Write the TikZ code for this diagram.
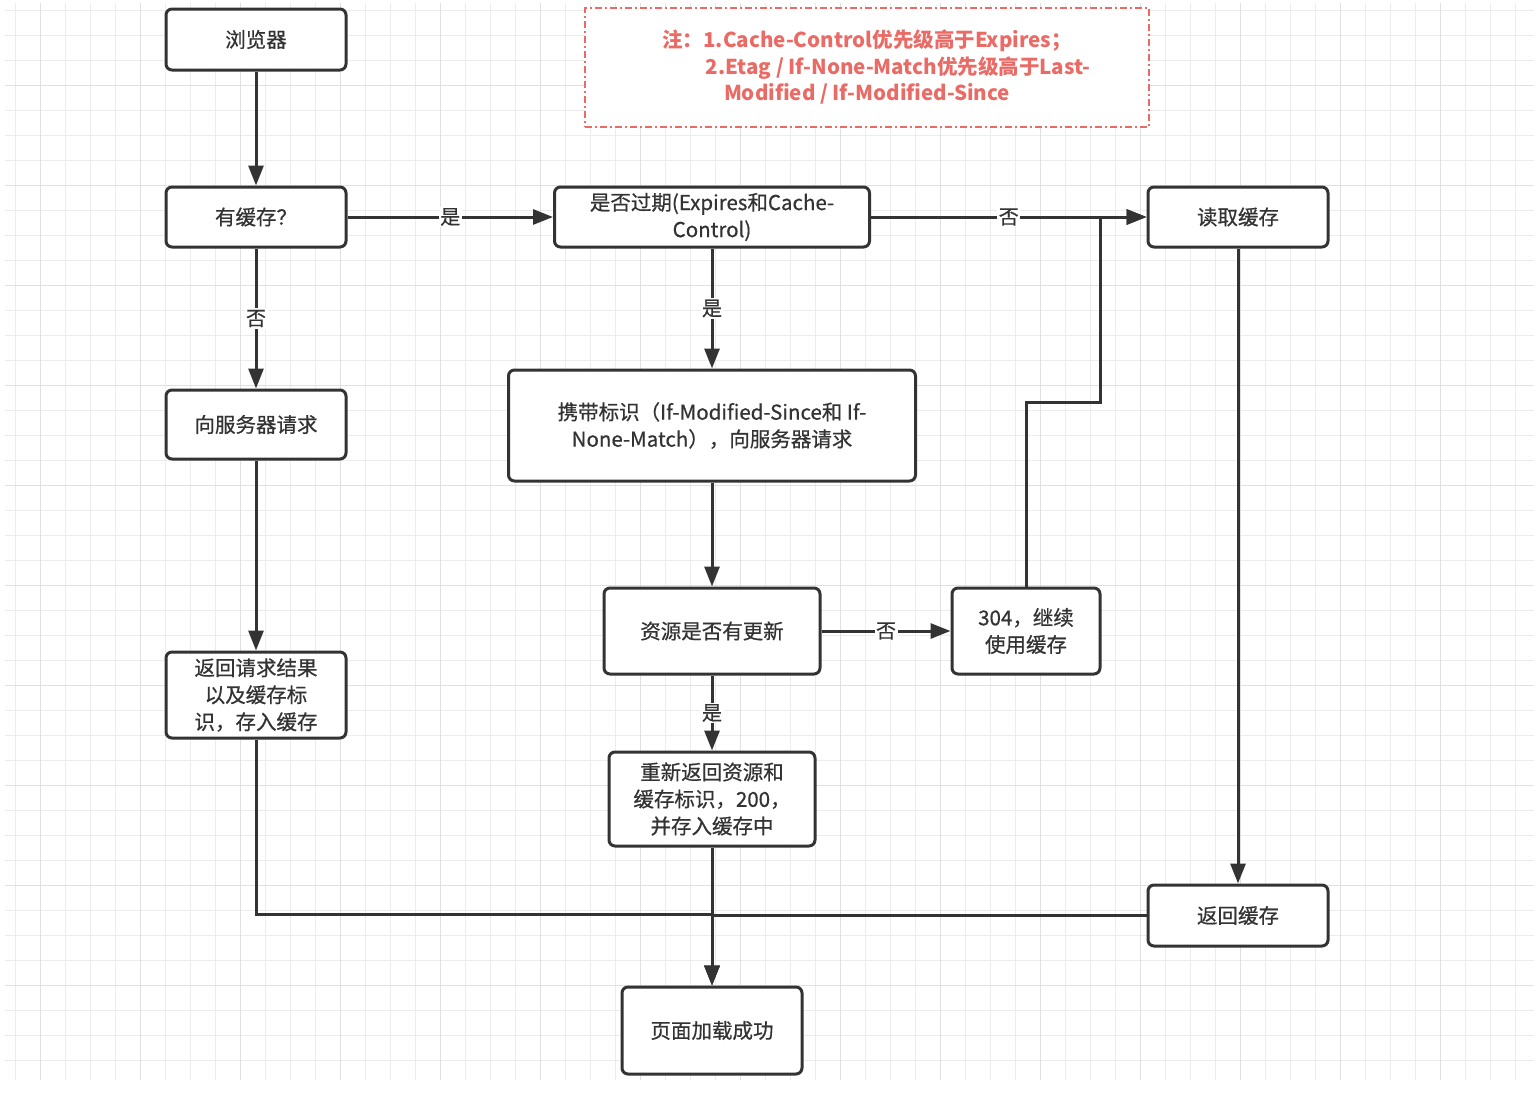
\documentclass[tikz,border=0pt]{standalone}
\usepackage{fontspec}
\setmainfont{Noto Sans CJK SC}
\newfontfamily\boxfont{Noto Sans CJK SC}[FakeBold=0.6]
\usetikzlibrary{arrows.meta}
\definecolor{ink}{HTML}{333333}
\definecolor{notec}{HTML}{EA6B66}
\definecolor{gridc}{HTML}{ECECEC}
\definecolor{gridm}{HTML}{E0E0E0}
\begin{document}
\begin{tikzpicture}[x=1pt,y=-1pt,
  box/.style={draw=ink, line width=3pt, rounded corners=6pt, fill=white, align=center, text=ink,
    font=\boxfont\fontsize{20.5}{27}\selectfont, inner sep=0pt},
  arr/.style={draw=ink, line width=3pt, -{Triangle[length=20pt,width=15pt]}},
  lbl/.style={fill=white, text=ink, font=\boxfont\fontsize{20}{24}\selectfont, inner sep=1.5pt},
  notebox/.style={draw=notec, line width=2pt, dash pattern=on 7pt off 3pt on 2pt off 3pt,
    fill=white, align=center, text=notec, font=\fontsize{20.5}{26.5}\selectfont\bfseries, inner sep=0pt}]
% background and grid
\fill[white] (0,0) rectangle (1538,1092);
\useasboundingbox (0,0) rectangle (1538,1092);
\begin{scope}
\clip (5,3) rectangle (1534,1080);
\foreach \i in {0,...,61} {\draw[gridc, line width=1pt] ({15+25*\i},3) -- ({15+25*\i},1080);}
\foreach \i in {0,...,43} {\draw[gridc, line width=1pt] (5,{10+25*\i}) -- (1534,{10+25*\i});}
\foreach \i in {0,...,15} {\draw[gridm, line width=1pt] ({40+100*\i},3) -- ({40+100*\i},1080);}
\foreach \i in {0,...,10} {\draw[gridm, line width=1pt] (5,{-15+100*\i}) -- (1534,{-15+100*\i});}
\end{scope}

% nodes
\node[box, minimum width=180pt, minimum height=61pt] (browser) at (256,39.5) {浏览器};
\node[box, minimum width=180pt, minimum height=60pt] (hascache) at (256,217) {有缓存？};
\node[box, minimum width=315pt, minimum height=60pt] (expired) at (712,217) {是否过期(Expires和Cache-\\Control)};
\node[box, minimum width=180pt, minimum height=60pt] (readcache) at (1238,217) {读取缓存};
\node[box, minimum width=180pt, minimum height=69pt] (request) at (256,424.5) {向服务器请求};
\node[box, minimum width=407pt, minimum height=111pt] (carry) at (712,425.5) {携带标识（If-Modified-Since和 If-\\None-Match），向服务器请求};
\node[box, minimum width=216pt, minimum height=86pt] (updated) at (712,631) {资源是否有更新};
\node[box, minimum width=148pt, minimum height=86pt] (n304) at (1026,631) {304，继续\\使用缓存};
\node[box, minimum width=180pt, minimum height=86pt] (result) at (256,695) {返回请求结果\\以及缓存标\\识，存入缓存};
\node[box, minimum width=206pt, minimum height=94pt] (reret) at (712,799) {重新返回资源和\\缓存标识，200，\\并存入缓存中};
\node[box, minimum width=180pt, minimum height=61pt] (retcache) at (1238,915.5) {返回缓存};
\node[box, minimum width=180pt, minimum height=87pt] (loaded) at (712,1030.5) {页面加载成功};
\node[notebox, minimum width=564pt, minimum height=119pt] (note) at (867,67.5)
  {注：1.Cache-Control优先级高于Expires；\\\hspace*{62pt}2.Etag / If-None-Match优先级高于Last-\\Modified / If-Modified-Since};

% connectors
\coordinate (j1) at (1100,402);
\coordinate (j2) at (712,914);
\draw[arr] (browser) -- (hascache);
\draw[arr] (hascache) -- node[lbl]{是} (expired);
\draw[arr] (hascache) -- node[lbl]{否} (request);
\draw[arr] (expired) -- node[lbl]{否} (readcache);
\draw[arr] (expired) -- node[lbl]{是} (carry);
\draw[arr] (carry) -- (updated);
\draw[arr] (updated) -- node[lbl]{否} (n304);
\draw[arr] (updated) -- node[lbl]{是} (reret);
\draw[arr] (n304.north) |- (j1) |- (readcache.west);
\draw[arr] (readcache) -- (retcache);
\draw[arr] (request) -- (result);
\draw[arr] (result.south) |- (j2) -- (loaded.north);
\draw[arr] (retcache.west) -| (loaded.north);
\draw[arr] (reret) -- (loaded);
\end{tikzpicture}
\end{document}
